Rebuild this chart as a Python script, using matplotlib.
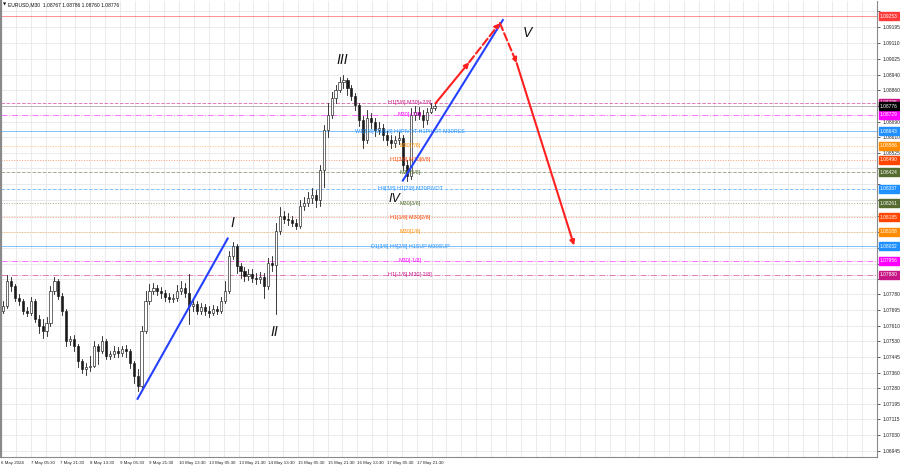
import numpy as np
import matplotlib.pyplot as plt
import matplotlib.transforms as mtransforms
from matplotlib.patches import Rectangle

plt.rcParams['font.family'] = ['Liberation Sans', 'DejaVu Sans']

title = "EURUSD,M30  1.08767 1.08786 1.08760 1.08776"

# candles (one candle ~ 4 px of the original)
first_open = 1.07690
closes = [1.07716, 1.07849, 1.07823, 1.07759, 1.07743, 1.07690, 1.07679, 1.07743, 1.07647, 1.07610,
          1.07583, 1.07626, 1.07796, 1.07849, 1.07770, 1.07690, 1.07530, 1.07541, 1.07504, 1.07424,
          1.07381, 1.07392, 1.07397, 1.07504, 1.07477, 1.07530, 1.07451, 1.07461, 1.07477, 1.07466,
          1.07488, 1.07477, 1.07413, 1.07344, 1.07291, 1.07583, 1.07743, 1.07796, 1.07812, 1.07796,
          1.07785, 1.07764, 1.07754, 1.07759, 1.07796, 1.07812, 1.07785, 1.07716, 1.07727, 1.07690,
          1.07711, 1.07690, 1.07679, 1.07700, 1.07690, 1.07743, 1.07796, 1.07982, 1.08035, 1.07929,
          1.07903, 1.07876, 1.07887, 1.07865, 1.07860, 1.07871, 1.07823, 1.07945, 1.07934, 1.08115,
          1.08195, 1.08179, 1.08169, 1.08158, 1.08142, 1.08248, 1.08259, 1.08286, 1.08302, 1.08275,
          1.08435, 1.08647, 1.08727, 1.08818, 1.08860, 1.08903, 1.08913, 1.08871, 1.08828, 1.08780,
          1.08701, 1.08594, 1.08711, 1.08690, 1.08647, 1.08658, 1.08621, 1.08594, 1.08578, 1.08594,
          1.08605, 1.08461, 1.08403, 1.08727, 1.08743, 1.08727, 1.08701, 1.08743, 1.08764, 1.08776]
highs = [1.07743, 1.07881, 1.07871, 1.07833, 1.07780, 1.07754, 1.07711, 1.07764, 1.07754, 1.07668,
         1.07647, 1.07658, 1.07823, 1.07871, 1.07860, 1.07785, 1.07700, 1.07557, 1.07562, 1.07514,
         1.07434, 1.07413, 1.07451, 1.07530, 1.07514, 1.07557, 1.07541, 1.07477, 1.07504, 1.07498,
         1.07504, 1.07509, 1.07488, 1.07424, 1.07381, 1.07610, 1.07796, 1.07833, 1.07839, 1.07828,
         1.07817, 1.07801, 1.07785, 1.07780, 1.07828, 1.07849, 1.07839, 1.07887, 1.07754, 1.07743,
         1.07732, 1.07727, 1.07716, 1.07722, 1.07716, 1.07764, 1.07849, 1.08009, 1.08057, 1.08046,
         1.07945, 1.07924, 1.07913, 1.07913, 1.07892, 1.07897, 1.07892, 1.07972, 1.07982, 1.08158,
         1.08238, 1.08217, 1.08211, 1.08190, 1.08174, 1.08275, 1.08296, 1.08318, 1.08339, 1.08328,
         1.08461, 1.08674, 1.08791, 1.08850, 1.08887, 1.08929, 1.08940, 1.08924, 1.08887, 1.08844,
         1.08791, 1.08722, 1.08754, 1.08738, 1.08711, 1.08690, 1.08679, 1.08642, 1.08621, 1.08616,
         1.08637, 1.08621, 1.08488, 1.08764, 1.08775, 1.08770, 1.08754, 1.08764, 1.08791, 1.08786]
lows = [1.07679, 1.07706, 1.07796, 1.07743, 1.07722, 1.07674, 1.07663, 1.07668, 1.07631, 1.07573,
        1.07546, 1.07557, 1.07610, 1.07780, 1.07754, 1.07668, 1.07504, 1.07509, 1.07477, 1.07392,
        1.07360, 1.07350, 1.07371, 1.07392, 1.07408, 1.07466, 1.07434, 1.07434, 1.07445, 1.07445,
        1.07451, 1.07445, 1.07387, 1.07307, 1.07264, 1.07275, 1.07573, 1.07727, 1.07780, 1.07775,
        1.07759, 1.07743, 1.07738, 1.07738, 1.07743, 1.07780, 1.07764, 1.07621, 1.07690, 1.07674,
        1.07674, 1.07668, 1.07658, 1.07668, 1.07674, 1.07679, 1.07732, 1.07785, 1.07966, 1.07892,
        1.07865, 1.07849, 1.07855, 1.07844, 1.07833, 1.07839, 1.07759, 1.07807, 1.07903, 1.07674,
        1.08099, 1.08158, 1.08147, 1.08137, 1.08126, 1.08131, 1.08222, 1.08243, 1.08264, 1.08238,
        1.08248, 1.08344, 1.08610, 1.08711, 1.08791, 1.08850, 1.08871, 1.08834, 1.08807, 1.08754,
        1.08669, 1.08552, 1.08578, 1.08658, 1.08616, 1.08626, 1.08594, 1.08568, 1.08552, 1.08557,
        1.08573, 1.08435, 1.08376, 1.08387, 1.08701, 1.08706, 1.08663, 1.08679, 1.08738, 1.08754]

price_ticks = [1.09280, 1.09195, 1.09110, 1.09025, 1.08940, 1.08860, 1.08775, 1.08690, 1.08610,
               1.08525, 1.08445, 1.08360, 1.08275, 1.08190, 1.08105, 1.08025, 1.07940, 1.07860,
               1.07780, 1.07695, 1.07610, 1.07530, 1.07445, 1.07360, 1.07280, 1.07195, 1.07115,
               1.07030, 1.06945]

time_labels = ["6 May 2024", "7 May 05:30", "7 May 21:30", "8 May 13:30", "9 May 05:30",
               "9 May 21:30", "10 May 13:30", "13 May 05:30", "13 May 21:30", "14 May 13:30",
               "15 May 05:30", "15 May 21:30", "16 May 13:30", "17 May 05:30", "17 May 21:30"]

# murrey-style levels
level_prices = [1.09253, 1.08795, 1.08729, 1.08643, 1.08566, 1.08490, 1.08424, 1.08337,
                1.08261, 1.08185, 1.08108, 1.08032, 1.07956, 1.07880]
level_names = ["", "H1[5/8] M30[+2/8]", "M30[+1/8]", "W1[5/8] D1[6/8] H4PIVOT H1PIVOT M30RES",
               "M30[7/8]", "H1[3/8] M30[6/8]", "M30[5/8]", "H4[3/8] H1[2/8] M30PIVOT",
               "M30[3/8]", "H1[1/8] M30[2/8]", "M30[1/8]", "D1[3/8] H4[2/8] H1SUP M30SUP",
               "M30[-1/8]", "H1[-1/8] M30[-2/8]"]
level_colors = ["#ff3a3a", "#c71585", "#ff00ff", "#1e90ff", "#ff8c00", "#ff4500", "#556b2f",
                "#1e90ff", "#556b2f", "#ff4500", "#ff8c00", "#1e90ff", "#ff00ff", "#c71585"]
level_styles = ["-", "--", "-.", "-", ":", ":", "--", "--", ":", ":", ":", "-", "-.", "-."]

last_price = 1.08776

# wave markup (candle index, price)
wave_up1_x = [34, 56.75]
wave_up1_y = [1.07222, 1.08073]
wave_up2_x = [101, 126.25]
wave_up2_y = [1.08381, 1.09233]
forecast_x = [109.25, 117.75, 125.5, 129.75, 144.25]
forecast_y = [1.08791, 1.09009, 1.09217, 1.09004, 1.08036]
wave_names = ["I", "II", "III", "IV", "V"]
wave_name_x = [58.0, 68.5, 85.7, 98.9, 132.4]
wave_name_y = [1.08158, 1.07578, 1.09020, 1.08285, 1.09163]
wave_name_size = [10, 10, 10, 9, 10]

fig = plt.figure(figsize=(9, 4.68), dpi=100)
ax = fig.add_axes([1 / 900, 11 / 468, 876 / 900, 456 / 468])
ax.set_xlim(-0.5, 218.5)
ax.set_ylim(1.06913, 1.09334)

# price boxes hide the axis labels that sit under them
boxed = level_prices + [last_price]
shown_ticks = [p for p in price_ticks if min(abs(p - b) for b in boxed) > 0.00030]

# grid
ax.set_xticks(np.arange(len(time_labels)) * 7.5 - 0.5)
ax.set_xticklabels(time_labels)
ax.set_xticks(np.arange(0, 60) * 3.75 - 0.5, minor=True)
for lab in ax.get_xticklabels():
    lab.set_ha('left')
ax.tick_params(axis='x', which='both', length=0, labelsize=3.2, pad=3, colors='#222222')
ax.yaxis.tick_right()
ax.set_yticks(price_ticks)
ax.set_yticklabels(["%.5f" % p if p in shown_ticks else "" for p in price_ticks])
ax.tick_params(axis='y', length=2, width=0.5, labelsize=3.5, pad=2, colors='#222222')
ax.grid(True, which='both', color='#e8e8e8', lw=0.6)
ax.set_axisbelow(True)
ax.spines['top'].set_visible(False)
for s in ['left', 'right', 'bottom']:
    ax.spines[s].set_color('#8a8a8a')
    ax.spines[s].set_linewidth(0.8)
ax.spines['left'].set_linewidth(1.6)

# levels
yx = mtransforms.blended_transform_factory(ax.transAxes, ax.transData)
for p, name, c, ls in zip(level_prices, level_names, level_colors, level_styles):
    ax.axhline(p, color=c, ls=ls, lw=0.7, alpha=0.55, zorder=1)
    if name:
        ax.text(102.8, p, name, color=c, fontsize=3.9, ha='center', va='center', zorder=4)
ax.axhline(last_price, color='#b0b0b0', lw=0.6, zorder=1)

# candles
opens = [first_open] + closes[:-1]
for i, (o, h, l, c) in enumerate(zip(opens, highs, lows, closes)):
    ax.plot([i, i], [min(l, o, c), max(h, o, c)], color='#1a1a1a', lw=0.6, zorder=3)
    fc = 'white' if c >= o else '#1a1a1a'
    ax.add_patch(Rectangle((i - 0.27, min(o, c)), 0.54, max(abs(c - o), 0.00003),
                           fc=fc, ec='#1a1a1a', lw=0.45, zorder=3))

# waves
ax.plot(wave_up1_x, wave_up1_y, color='#2541ff', lw=1.5, zorder=5)
ax.plot(wave_up2_x, wave_up2_y, color='#2541ff', lw=1.5, zorder=5)
seg_styles = ['-', '--', '--', '-']
for k in range(4):
    ax.annotate('', xy=(forecast_x[k + 1], forecast_y[k + 1]), xytext=(forecast_x[k], forecast_y[k]),
                arrowprops=dict(arrowstyle='-|>', color='#ff2020', lw=1.5, ls=seg_styles[k],
                                mutation_scale=7, shrinkA=0, shrinkB=0), zorder=6)
for n, x, y, fs in zip(wave_names, wave_name_x, wave_name_y, wave_name_size):
    ax.text(x, y, n, fontsize=fs, style='italic', ha='center', va='center', color='#111111', zorder=6)

# price boxes
for p, c in zip(boxed, level_colors + ['#000000']):
    ax.annotate("%.5f" % p, xy=(1, p), xycoords=yx, xytext=(3, 0), textcoords='offset pixels',
                ha='left', va='center', fontsize=3.5, color='white', annotation_clip=False,
                bbox=dict(boxstyle='square,pad=0.3', fc=c, ec=c), zorder=10)

fig.text(3 / 900, 1 - 5 / 468, "\u25bc", fontsize=3, va='center', ha='left', color='#111111',
         family=['DejaVu Sans'])
fig.text(8 / 900, 1 - 5 / 468, title, fontsize=3.6, va='center', ha='left', color='#111111')

fig.savefig('out.png', dpi=100, facecolor='white')
